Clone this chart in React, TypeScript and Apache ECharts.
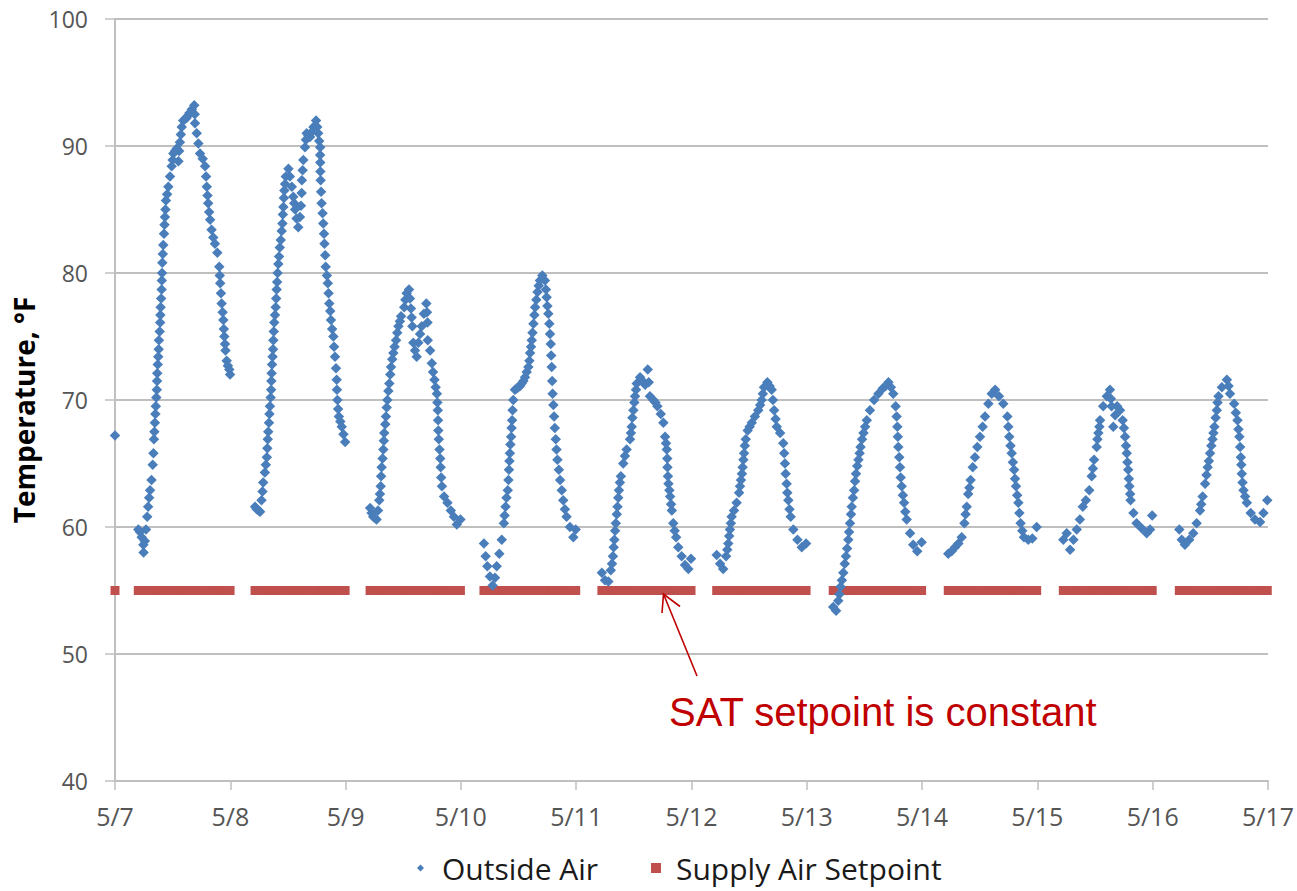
import React, { useEffect, useRef } from "react";
import * as echarts from "echarts";

// x-axis tick labels (one per day boundary)
const DATE_LABELS = ["5/7", "5/8", "5/9", "5/10", "5/11", "5/12", "5/13", "5/14", "5/15", "5/16", "5/17"];

// Outside air readings per day: [hour of day, °F]
const OA_0507: [number, number][] = [
  [0, 67.2],
  [4.85, 59.8], [5.2, 59.6], [5.55, 59.2], [5.9, 58.6], [5.95, 58.0], [6.2, 58.9], [6.45, 59.8], [6.7, 60.8],
  [6.9, 61.6], [7.1, 62.3], [7.3, 62.9], [7.6, 63.7], [7.85, 64.9], [8.0, 65.8], [8.1, 66.9], [8.2, 67.5],
  [8.3, 68.2], [8.4, 68.9], [8.5, 69.5], [8.6, 70.2], [8.7, 70.8], [8.75, 71.5], [8.8, 72.1], [8.9, 72.8],
  [9.0, 73.4], [9.1, 74.0], [9.15, 74.7], [9.3, 75.4], [9.4, 76.1], [9.45, 76.7], [9.5, 77.3], [9.6, 78.0],
  [9.7, 78.7], [9.75, 79.4], [9.8, 80.0], [9.85, 80.8], [9.95, 81.5], [10.05, 82.2], [10.2, 83.1],
  [10.3, 83.8], [10.4, 84.4], [10.5, 85.0], [10.6, 85.7], [10.85, 86.2], [11.1, 86.8], [11.45, 87.6],
  [11.8, 88.4], [12.0, 88.9], [12.15, 89.4], [12.5, 89.6], [12.85, 89.8], [13.2, 88.8], [13.35, 89.6],
  [13.5, 90.3], [13.7, 90.9], [13.9, 91.5], [14.2, 92.0], [14.55, 92.1], [14.9, 92.2], [15.2, 92.4],
  [15.5, 92.6], [16.0, 92.9], [16.5, 93.2], [16.6, 92.5], [16.65, 91.8], [17.0, 91.0], [17.35, 90.2],
  [17.7, 89.4], [18.25, 89.0], [18.75, 88.4], [18.95, 87.6], [19.1, 86.8], [19.25, 86.1], [19.4, 85.5],
  [19.6, 84.8], [19.8, 84.2], [20.1, 83.4], [20.45, 82.8], [20.8, 82.3], [21.3, 81.6], [21.7, 80.5],
  [21.8, 79.8], [21.9, 79.2], [22.05, 78.4], [22.2, 77.6], [22.4, 76.9], [22.55, 76.3], [22.65, 75.6],
  [22.75, 75.0], [22.9, 74.4], [23.0, 73.9], [23.25, 73.1], [23.5, 72.7], [23.8, 72.4], [23.95, 72.0],
];
const OA_0508: [number, number][] = [
  [5.15, 61.6], [5.5, 61.4], [5.9, 61.3], [6.2, 61.2], [6.5, 62.1], [6.7, 62.8], [6.85, 63.5], [7.2, 64.3],
  [7.4, 64.9], [7.6, 65.5], [7.7, 66.2], [7.8, 66.9], [7.9, 67.5], [8.05, 68.2], [8.15, 68.9], [8.25, 69.5],
  [8.4, 70.2], [8.5, 70.8], [8.55, 71.5], [8.6, 72.1], [8.7, 72.8], [8.8, 73.4], [8.9, 74.0], [8.95, 74.7],
  [9.05, 75.4], [9.15, 76.1], [9.3, 76.7], [9.45, 77.3], [9.55, 78.0], [9.65, 78.7], [9.75, 79.3],
  [9.85, 80.0], [10.0, 80.7], [10.15, 81.3], [10.3, 82.0], [10.5, 82.6], [10.7, 83.3], [10.85, 83.9],
  [10.95, 84.6], [11.05, 85.2], [11.15, 85.9], [11.25, 86.5], [11.4, 87.0], [11.55, 87.6], [12.1, 88.2],
  [12.4, 87.6], [12.8, 86.8], [13.1, 86.0], [13.3, 85.5], [13.5, 85.0], [13.8, 84.3], [14.15, 83.6],
  [14.5, 84.4], [14.7, 85.3], [14.85, 86.3], [14.9, 87.3], [15.05, 88.1], [15.2, 88.9], [15.55, 89.9],
  [15.75, 90.5], [15.9, 91.0], [16.25, 90.8], [16.6, 90.7], [16.95, 91.1], [17.3, 91.5], [17.85, 92.0],
  [18.1, 91.5], [18.3, 91.0], [18.5, 90.4], [18.7, 89.9], [18.7, 89.3], [18.72, 88.7], [18.75, 88.0],
  [18.8, 87.3], [18.9, 86.4], [19.0, 85.5], [19.2, 84.7], [19.35, 83.9], [19.5, 83.1], [19.6, 82.3],
  [19.75, 81.4], [19.85, 80.5], [20.1, 79.8], [20.3, 79.2], [20.45, 78.4], [20.6, 77.6], [20.8, 77.0],
  [20.95, 76.3], [21.2, 75.6], [21.45, 75.0], [21.6, 74.2], [21.8, 73.4], [22.0, 72.5], [22.15, 71.6],
  [22.2, 70.8], [22.3, 70.0], [22.45, 69.3], [22.6, 68.7], [22.9, 68.3], [23.2, 67.9], [23.55, 67.3],
  [23.9, 66.7],
];
const OA_0509: [number, number][] = [
  [5.1, 61.5], [5.4, 61.1], [5.75, 60.8], [6.1, 60.7], [6.45, 60.6], [6.75, 61.3], [7.0, 62.1], [7.15, 62.6],
  [7.3, 63.2], [7.4, 64.0], [7.5, 64.7], [7.7, 65.4], [7.85, 66.1], [7.95, 66.8], [8.05, 67.4], [8.25, 68.1],
  [8.4, 68.7], [8.55, 69.4], [8.7, 70.0], [8.9, 70.7], [9.1, 71.3], [9.3, 72.0], [9.45, 72.6], [9.7, 73.2],
  [9.95, 73.7], [10.2, 74.2], [10.5, 74.7], [10.75, 75.3], [11.0, 75.8], [11.3, 76.2], [11.55, 76.6],
  [12.2, 77.3], [12.45, 77.9], [12.7, 78.4], [13.2, 78.7], [13.4, 78.0], [13.6, 77.2], [13.75, 76.5],
  [13.9, 75.8], [14.1, 74.5], [14.45, 73.9], [14.8, 73.4], [15.15, 74.5], [15.5, 75.2], [15.85, 75.8],
  [16.3, 76.8], [16.8, 77.6], [16.95, 76.9], [17.05, 76.1], [17.1, 74.7], [17.6, 73.9], [17.95, 72.9],
  [18.2, 72.2], [18.5, 71.6], [18.75, 71.0], [19.0, 70.5], [19.1, 69.8], [19.2, 69.2], [19.25, 68.4],
  [19.3, 67.6], [19.4, 66.9], [19.55, 66.1], [19.7, 65.4], [19.8, 64.7], [19.9, 63.9], [20.05, 63.2],
  [20.5, 62.4], [21.2, 61.9], [21.9, 61.3], [22.55, 60.8], [23.15, 60.2], [23.9, 60.6],
];
const OA_0510: [number, number][] = [
  [4.8, 58.7], [5.15, 57.7], [5.5, 56.9], [6.05, 56.1], [6.6, 55.4], [7.1, 56.0], [7.45, 56.9], [8.0, 57.9],
  [8.5, 59.0], [8.95, 60.3], [9.1, 60.9], [9.3, 61.6], [9.5, 62.3], [9.75, 62.9], [9.9, 63.7], [10.0, 64.5],
  [10.1, 65.2], [10.2, 65.8], [10.3, 66.5], [10.45, 67.1], [10.55, 67.8], [10.65, 68.4], [10.75, 69.2],
  [10.9, 70.0], [11.25, 70.8], [11.6, 70.9], [11.95, 71.0], [12.3, 71.1], [12.65, 71.3], [13.0, 71.5],
  [13.35, 71.8], [13.7, 72.2], [14.05, 72.6], [14.25, 73.1], [14.4, 73.7], [14.6, 74.2], [14.75, 74.7],
  [14.9, 75.3], [15.1, 76.0], [15.3, 76.7], [15.45, 77.3], [15.7, 77.9], [15.95, 78.5], [16.2, 79.0],
  [16.45, 79.4], [16.95, 79.8], [17.5, 79.4], [17.7, 78.7], [17.85, 78.1], [18.0, 77.4], [18.2, 76.8],
  [18.4, 76.0], [18.55, 75.2], [18.7, 74.4], [18.8, 73.5], [18.9, 72.6], [19.0, 71.5], [19.1, 70.5],
  [19.25, 69.6], [19.4, 68.7], [19.55, 67.8], [19.75, 66.9], [19.9, 66.1], [20.1, 65.3], [20.4, 64.5],
  [20.65, 63.7], [21.0, 62.9], [21.3, 62.1], [21.65, 61.4], [22.0, 60.8], [22.7, 60.0], [23.4, 59.2],
  [23.9, 59.8],
];
const OA_0511: [number, number][] = [
  [5.35, 56.4], [6.0, 55.8], [6.7, 55.7], [7.2, 56.6], [7.45, 57.1], [7.65, 57.7], [7.8, 58.4], [7.95, 59.0],
  [8.1, 59.7], [8.25, 60.3], [8.45, 61.0], [8.6, 61.6], [8.75, 62.3], [8.9, 62.9], [9.1, 63.5], [9.3, 64.0],
  [9.8, 65.0], [10.15, 65.6], [10.5, 66.1], [11.2, 66.9], [11.4, 67.4], [11.55, 67.9], [11.7, 68.6],
  [11.9, 69.2], [12.1, 69.8], [12.25, 70.3], [12.45, 70.8], [12.6, 71.3], [13.3, 71.8], [13.8, 71.5],
  [14.35, 71.2], [14.9, 72.4], [15.1, 71.4], [15.35, 70.3], [16.05, 70.0], [16.5, 69.8], [16.9, 69.5],
  [17.6, 68.9], [18.15, 68.2], [18.5, 67.1], [18.7, 66.6], [18.85, 66.1], [18.95, 65.4], [19.0, 64.7],
  [19.1, 64.0], [19.2, 63.4], [19.4, 62.9], [19.55, 62.4], [19.75, 61.8], [19.9, 61.3], [20.2, 60.3],
  [20.5, 59.7], [20.8, 59.2], [21.25, 58.4], [21.95, 57.7], [22.65, 57.0], [23.35, 56.7], [23.9, 57.5],
];
const OA_0512: [number, number][] = [
  [5.25, 57.8], [5.95, 57.1], [6.6, 56.7], [7.2, 57.7], [7.45, 58.2], [7.65, 58.7], [7.85, 59.3], [8.0, 59.8],
  [8.2, 60.3], [8.35, 60.8], [8.85, 61.3], [9.4, 61.9], [9.9, 62.7], [10.1, 63.2], [10.3, 63.7], [10.5, 64.2],
  [10.65, 64.7], [10.8, 65.3], [10.95, 65.8], [11.1, 66.4], [11.3, 66.9], [11.7, 67.6], [12.1, 67.9],
  [12.55, 68.2], [13.2, 68.7], [13.9, 69.2], [14.3, 69.6], [14.6, 70.0], [14.85, 70.5], [15.1, 71.0],
  [15.8, 71.4], [16.25, 71.1], [16.7, 70.8], [16.95, 70.0], [17.2, 69.2], [17.5, 68.5], [17.75, 67.9],
  [18.45, 67.4], [19.1, 66.6], [19.3, 65.8], [19.45, 65.0], [19.6, 64.2], [19.8, 63.4], [19.95, 62.7],
  [20.15, 62.1], [20.4, 61.4], [20.65, 60.8], [21.2, 59.8], [22.05, 59.0], [22.95, 58.4], [23.85, 58.7],
];
const OA_0513: [number, number][] = [
  [5.5, 53.7], [6.1, 53.4], [6.55, 54.2], [6.8, 54.7], [7.05, 55.3], [7.3, 55.8], [7.6, 56.4], [7.9, 57.1],
  [8.15, 57.7], [8.4, 58.3], [8.65, 59.0], [8.8, 59.6], [9.0, 60.3], [9.2, 61.0], [9.35, 61.6], [9.6, 62.3],
  [9.85, 62.9], [10.05, 63.6], [10.25, 64.2], [10.5, 64.8], [10.75, 65.3], [11.0, 65.8], [11.2, 66.3],
  [11.5, 66.9], [11.8, 67.4], [12.15, 67.9], [12.5, 68.4], [13.15, 69.2], [14.0, 70.0], [14.9, 70.5],
  [15.8, 70.9], [16.4, 71.1], [17.0, 71.4], [17.5, 71.0], [18.0, 70.5], [18.5, 69.5], [18.7, 68.7],
  [18.85, 67.9], [18.95, 67.1], [19.05, 66.3], [19.25, 65.5], [19.4, 64.7], [19.55, 63.9], [19.75, 63.2],
  [20.0, 62.5], [20.25, 61.9], [20.5, 61.2], [20.8, 60.6], [21.5, 59.5], [22.15, 58.6], [23.0, 58.1],
  [23.9, 58.8],
];
const OA_0514: [number, number][] = [
  [5.45, 57.9], [6.15, 58.1], [6.85, 58.4], [7.55, 58.7], [8.25, 59.2], [8.8, 60.3], [9.05, 61.0], [9.3, 61.6],
  [9.6, 62.6], [9.85, 63.1], [10.1, 63.7], [10.55, 64.7], [11.0, 65.5], [11.5, 66.3], [12.05, 67.1],
  [12.6, 67.9], [13.1, 68.7], [13.8, 69.7], [14.5, 70.5], [15.2, 70.8], [16.0, 70.3], [16.9, 69.7],
  [17.75, 68.7], [17.95, 67.9], [18.15, 67.1], [18.4, 66.4], [18.65, 65.8], [18.9, 65.1], [19.15, 64.5],
  [19.35, 63.8], [19.55, 63.2], [19.8, 62.5], [20.05, 61.9], [20.25, 61.1], [20.5, 60.3], [20.85, 59.7],
  [21.2, 59.2], [22.1, 59.0], [22.95, 59.1], [23.85, 60.0],
];
const OA_0515: [number, number][] = [
  [5.4, 59.0], [6.1, 59.5], [6.8, 58.2], [7.5, 59.0], [8.2, 59.8], [8.85, 60.6], [9.45, 61.6], [10.1, 62.1],
  [10.8, 62.9], [11.3, 64.0], [11.55, 64.6], [11.8, 65.3], [12.35, 66.3], [12.5, 66.9], [12.7, 67.4],
  [12.9, 67.9], [13.05, 68.4], [13.7, 69.5], [14.45, 70.3], [15.1, 70.8], [15.3, 70.1], [15.45, 69.5],
  [15.8, 67.9], [16.2, 68.8], [16.6, 69.5], [17.2, 69.2], [17.75, 68.4], [18.0, 67.8], [18.25, 67.1],
  [18.45, 66.4], [18.6, 65.8], [18.75, 65.1], [18.9, 64.5], [19.05, 63.8], [19.15, 63.2], [19.3, 62.6],
  [19.4, 62.1], [20.0, 61.1], [20.65, 60.3], [21.7, 59.9], [22.75, 59.5], [23.45, 59.8], [23.9, 60.9],
];
const OA_0516: [number, number][] = [
  [5.55, 59.8], [6.05, 59.0], [6.7, 58.6], [7.6, 59.0], [8.45, 59.5], [9.15, 60.3], [9.85, 61.3], [10.1, 61.8],
  [10.4, 62.4], [10.9, 63.4], [11.2, 64.1], [11.45, 64.7], [11.7, 65.2], [11.95, 65.8], [12.2, 66.4],
  [12.45, 66.9], [12.65, 67.4], [12.85, 67.9], [13.1, 68.6], [13.35, 69.2], [13.5, 69.8], [13.7, 70.3],
  [14.4, 71.0], [15.45, 71.6], [15.8, 71.1], [16.1, 70.5], [16.95, 69.7], [17.3, 69.0], [17.65, 68.4],
  [17.85, 67.7], [18.05, 67.1], [18.2, 66.3], [18.35, 65.5], [18.45, 64.9], [18.55, 64.2], [18.7, 63.5],
  [18.9, 62.9], [19.25, 62.4], [19.6, 61.9], [20.4, 61.1], [21.3, 60.6], [22.35, 60.4], [23.05, 61.1],
  [23.85, 62.1],
];

const OA_DAYS = [OA_0507, OA_0508, OA_0509, OA_0510, OA_0511, OA_0512, OA_0513, OA_0514, OA_0515, OA_0516];

// Supply air temperature setpoint (constant), logged at the same timestamps
const SETPOINT_F = 55;

const SERIES_NAMES = ["Outside Air", "Supply Air Setpoint"];

const FONT = "'Open Sans', 'Noto Sans', sans-serif";

export default function App() {
  const ref = useRef<HTMLDivElement>(null);

  useEffect(() => {
    if (!ref.current) return;
    const chart = echarts.init(ref.current, undefined, { renderer: "svg" });

    const oaData = OA_DAYS.flatMap((day, d) => day.map(([h, t]) => [d + h / 24, t]));
    const spData = oaData.map(([x]) => [x, SETPOINT_F]);

    chart.setOption({
      animation: false,
      backgroundColor: "#ffffff",
      grid: { left: 115, right: 29, top: 19, bottom: 110, containLabel: false },
      xAxis: {
        type: "value",
        min: 0,
        max: DATE_LABELS.length - 1,
        interval: 1,
        axisLine: { show: true, lineStyle: { color: "#BFBFBF", width: 2 } },
        axisTick: { show: true, length: 9, lineStyle: { color: "#BFBFBF", width: 1.5 } },
        splitLine: { show: false },
        axisLabel: {
          formatter: (v: number) => DATE_LABELS[Math.round(v)] ?? "",
          color: "#555555",
          fontSize: 25,
          fontFamily: FONT,
          margin: 22,
        },
      },
      yAxis: {
        type: "value",
        min: 40,
        max: 100,
        interval: 10,
        name: "Temperature, °F",
        nameLocation: "middle",
        nameRotate: 90,
        nameGap: 70,
        nameTextStyle: {
          fontWeight: "bold",
          fontSize: 28,
          color: "#000000",
          fontFamily: FONT,
          padding: [0, 20, 0, 0],
        },
        axisLine: { show: true, lineStyle: { color: "#BFBFBF", width: 2 } },
        axisTick: { show: true, length: 10, lineStyle: { color: "#BFBFBF", width: 1.5 } },
        splitLine: { show: true, lineStyle: { color: "#BFBFBF", width: 2 } },
        axisLabel: { color: "#555555", fontSize: 23, fontFamily: FONT, margin: 27 },
      },
      legend: [
        {
          data: [{ name: SERIES_NAMES[0], icon: "diamond" }],
          left: 417,
          top: 853,
          padding: 0,
          itemWidth: 7,
          itemHeight: 7,
          textStyle: { fontSize: 30, color: "#1a1a1a", fontFamily: FONT, padding: [0, 0, 0, 13] },
        },
        {
          data: [{ name: SERIES_NAMES[1], icon: "rect" }],
          left: 651,
          top: 853,
          padding: 0,
          itemWidth: 10,
          itemHeight: 10,
          textStyle: { fontSize: 30, color: "#1a1a1a", fontFamily: FONT, padding: [0, 0, 0, 10] },
        },
      ],
      series: [
        {
          name: SERIES_NAMES[1],
          type: "scatter",
          symbol: "rect",
          symbolSize: 9,
          data: spData,
          itemStyle: { color: "#C0504D", opacity: 1 },
          z: 2,
        },
        {
          name: SERIES_NAMES[0],
          type: "scatter",
          symbol: "diamond",
          symbolSize: 10.5,
          data: oaData,
          itemStyle: { color: "#4A7EBB", opacity: 1 },
          z: 3,
        },
      ],
      graphic: [
        {
          type: "line",
          shape: { x1: 697, y1: 676, x2: 663.5, y2: 594 },
          style: { stroke: "#C00000", lineWidth: 1.6 },
          z: 100,
        },
        {
          type: "polyline",
          shape: { points: [[680, 606.5], [663.5, 594], [662, 613]] },
          style: { stroke: "#C00000", lineWidth: 1.6, fill: null },
          z: 100,
        },
        {
          type: "text",
          x: 669,
          y: 712,
          style: {
            text: "SAT setpoint is constant",
            fill: "#C00000",
            fontSize: 40,
            fontFamily: "'Liberation Sans', Arial, sans-serif",
            align: "left",
            verticalAlign: "middle",
          },
          z: 100,
        },
      ],
    });

    return () => chart.dispose();
  }, []);

  return (
    <div
      ref={ref}
      style={{ position: "fixed", left: 0, top: 0, width: 1297, height: 891, background: "#ffffff" }}
    />
  );
}
